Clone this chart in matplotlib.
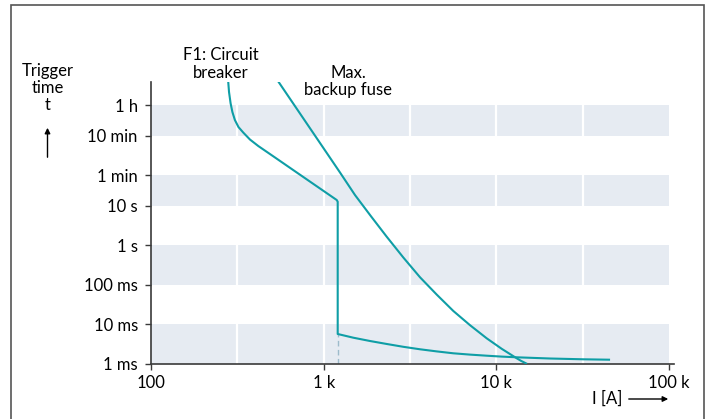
import matplotlib.pyplot as plt
from matplotlib.patches import Rectangle
from matplotlib.ticker import NullLocator

plt.rcParams['font.family'] = ['Lato', 'DejaVu Sans']

# time axis ticks (seconds) and their labels
time_ticks = [1e-3, 1e-2, 1e-1, 1, 10, 60, 600, 3600]
time_labels = ['1 ms', '10 ms', '100 ms', '1 s', '10 s', '1 min', '10 min', '1 h']
current_ticks = [100, 1000, 10000, 100000]
current_labels = ['100', '1 k', '10 k', '100 k']

# shaded time bands (seconds)
bands = [(1e-3, 1e-2), (0.1, 1), (10, 60), (600, 3600)]

# F1 circuit breaker tripping curve: I [A], t [s]
breaker_I = [280, 283, 289, 296, 306, 321, 342, 374, 418, 511, 729, 1189, 1205,
             1205, 1484, 1854, 2317, 2891, 3611, 4512, 5629, 7033, 8785,
             10730, 13110, 20440, 31870, 44870]
breaker_t = [1.4e4, 7674, 3972, 2393, 1500, 995, 723, 481, 329, 180, 61.6, 14.1, 12.75,
             5.66e-3, 4.56e-3, 3.76e-3, 3.16e-3, 2.68e-3, 2.32e-3, 2.05e-3, 1.835e-3,
             1.70e-3, 1.595e-3, 1.513e-3, 1.453e-3, 1.354e-3, 1.293e-3, 1.263e-3]
instant_I = 1205      # instantaneous trip current
instant_t = 5.66e-3

# maximum backup fuse curve
fuse_I = [547, 729, 952, 1243, 1518, 1879, 2317, 2891, 3611, 4512, 5629,
          7033, 8785, 10730, 13110, 13940, 14840]
fuse_t = [1.4e4, 2193, 392, 70.0, 18.8, 5.44, 1.65, 0.491, 0.155, 0.0564, 0.0217,
          9.46e-3, 4.40e-3, 2.385e-3, 1.37e-3, 1.17e-3, 1.02e-3]

teal = '#0f9ea6'
band_color = '#e6ebf2'
axis_color = '#3a3a3a'
fs = 12

W, H = 712, 419
fig = plt.figure(figsize=(W / 100, H / 100), dpi=100)
ax = fig.add_axes([151 / W, (H - 363.7) / H, (674 - 151) / W, (363.7 - 82) / H])
ax.set_xscale('log')
ax.set_yscale('log')
ax.set_xlim(100, 1.067e5)
ax.set_ylim(1e-3, 1.38e4)

for lo, hi in bands:
    ax.fill_between([100, 1e5], lo, hi, color=band_color, lw=0, zorder=0)
for x in [316, 1000, 3162, 10000, 31623]:
    ax.vlines(x, 1e-3, 3600, color='white', lw=1.6, zorder=1)

ax.vlines(instant_I, 1e-3, instant_t, color='#9dbbcb', lw=1,
          linestyles=(0, (4, 2.5)), zorder=2)

ax.plot(breaker_I, breaker_t, color=teal, lw=1.5, zorder=3)
ax.plot(fuse_I, fuse_t, color=teal, lw=1.5, zorder=3)

for side in ['top', 'right']:
    ax.spines[side].set_visible(False)
for side in ['left', 'bottom']:
    ax.spines[side].set_color(axis_color)
    ax.spines[side].set_linewidth(1.2)

ax.set_yticks(time_ticks, labels=time_labels)
ax.set_xticks(current_ticks, labels=current_labels)
ax.xaxis.set_minor_locator(NullLocator())
ax.yaxis.set_minor_locator(NullLocator())
ax.tick_params(axis='y', length=4.5, width=1, color=axis_color, pad=5, labelsize=fs)
ax.tick_params(axis='x', length=4, width=1, color=axis_color, pad=4, labelsize=fs)


def px(x, y):
    return x / W, 1 - y / H


def label(x, y, s, **kw):
    fig.text(*px(x, y), s, ha=kw.pop('ha', 'center'), va='baseline', fontsize=fs, **kw)


label(48, 76, 'Trigger')
label(48, 93, 'time')
label(48, 110, 't')
ax.annotate('', xy=(47.5, H - 125), xytext=(47.5, H - 160),
            xycoords='figure pixels', textcoords='figure pixels',
            arrowprops=dict(arrowstyle='-|>', color='black', lw=1, mutation_scale=8))

label(221, 60, 'F1: Circuit')
label(221, 78, 'breaker')
label(348, 78, 'Max.')
label(348, 95, 'backup fuse')

label(622, 404, 'I [A]', ha='right')
ax.annotate('', xy=(671, H - 399), xytext=(626, H - 399),
            xycoords='figure pixels', textcoords='figure pixels',
            arrowprops=dict(arrowstyle='-|>', color='black', lw=1, mutation_scale=8))

# frame around the whole figure
fig.add_artist(Rectangle((11 / W, -0.05), (704 - 11) / W, (H - 5) / H + 0.05,
                         transform=fig.transFigure, fill=False,
                         ec='#555555', lw=1.2))

fig.savefig('out.png', dpi=100)
